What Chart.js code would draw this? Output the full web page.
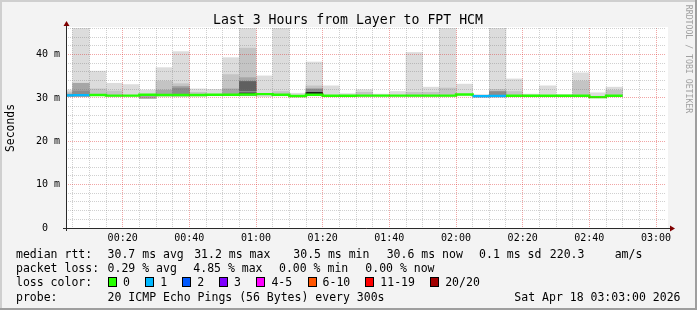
<!DOCTYPE html>
<html><head><meta charset="utf-8">
<script src="https://cdn.jsdelivr.net/npm/chart.js@4.4.1/dist/chart.umd.min.js"></script>
<style>html,body{margin:0;padding:0;background:#f3f3f3}canvas{display:block}</style>
</head><body>
<canvas id="c" width="697" height="310"></canvas>
<script>
// ---------- data ----------
const viewStart = '00:03';
const viewEnd = '03:03';
const stepMinutes = 5;               // probe every 300 s

const intervalStarts = ['00:00','00:05','00:10','00:15','00:20','00:25','00:30','00:35','00:40','00:45',
  '00:50','00:55','01:00','01:05','01:10','01:15','01:20','01:25','01:30','01:35',
  '01:40','01:45','01:50','01:55','02:00','02:05','02:10','02:15','02:20','02:25',
  '02:30','02:35','02:40','02:45'];

// median rtt in ms
const medianRtt = [30.6,30.65,30.7,30.55,30.55,30.75,30.7,30.7,30.7,30.75,
  30.75,30.8,30.9,30.75,30.45,30.75,30.5,30.5,30.55,30.55,
  30.55,30.55,30.55,30.55,30.8,30.4,30.45,30.5,30.5,30.5,
  30.5,30.5,30.2,30.5];

// lost pings (of 20) per interval
const lostPings = [1,1,0,0,0,0,0,0,0,0,
  0,0,0,0,0,0,0,0,0,0,
  0,0,0,0,0,1,1,0,0,0,
  0,0,0,0];

// smoke bands [low, high] in ms, lightest (outer) to darkest (inner)
const smokeOuter = [[30.3,31.85],[30.4,47],[30.5,36.2],[30.3,33.4],[30.3,33.1],[29.9,31.85],[30.4,37.0],[30.4,40.7],[30.4,32.1],[30.5,32.0],
  [30.5,39.3],[30.5,47],[30.3,35.1],[30.5,47],[30.2,31.1],[30.5,38.3],[30.3,32.8],[30.3,31.0],[30.3,31.9],[30.3,30.9],
  [30.3,31.5],[30.3,40.5],[30.3,32.5],[30.3,47],[30.5,33.2],[30.2,30.8],[30.2,47],[30.3,34.4],[30.3,30.9],[30.3,32.8],
  [30.3,30.8],[30.3,35.8],[30.0,31.2],[30.3,32.5]];
const smokeSecond = [[30.4,31.4],null,[30.6,32.1],[30.4,31.6],null,null,[30.5,33.9],[30.5,33.3],[30.5,31.3],null,
  [30.6,35.4],[30.6,41.5],null,[30.6,31.5],null,[30.6,32.8],null,null,[30.4,31.3],null,
  null,[30.4,31.3],[30.4,31.3],[30.4,32.3],null,null,[30.3,32.0],[30.4,31.5],null,null,
  null,[30.4,33.9],null,[30.4,31.8]];
const smokeThird = [null,[30.4,33.4],null,null,null,[29.9,30.5],[30.5,31.8],[30.5,32.7],null,null,
  [30.6,32.1],[30.6,34.7],null,null,null,null,null,null,null,null,
  null,null,null,null,null,null,null,null,null,null,
  null,null,null,null];
const smokeFourth = [[30.4,30.9],[30.4,31.6],null,null,null,null,null,[30.5,32.3],null,null,
  null,[30.6,33.8],null,null,null,[30.6,32.1],null,null,null,null,
  null,null,null,null,null,null,[30.3,31.5],null,null,null,
  null,null,null,null];
const smokeFifth = [null,null,null,null,null,null,null,null,null,null,
  null,[31.7,33.8],null,null,null,null,null,null,null,null,
  null,null,null,null,null,null,null,null,null,null,
  null,null,null,null];
const smokeCore = [null,null,null,null,null,null,null,null,null,null,
  null,[30.8,31.15],null,null,null,[30.8,31.3],null,null,null,null,
  null,null,null,null,null,null,null,null,null,null,
  null,null,null,null];

const xTickLabels = ['00:20','00:40','01:00','01:20','01:40','02:00','02:20','02:40','03:00'];
const yTickValues = [0,10,20,30,40];
const yTickLabels = ['0  ','10 m','20 m','30 m','40 m'];
const yMax = 46.15;

const lossColors = ['#26ff00','#00b8ff','#0059ff','#7e00ff','#ff00ff','#ff5500','#ff0000','#a10000'];
const lossLabels = ['0','1','2','3','4-5','6-10','11-19','20/20'];

const titleText = 'Last 3 Hours from Layer to FPT HCM';
const yAxisTitle = 'Seconds';
const sideText = 'RRDTOOL / TOBI OETIKER';
const statRows = [
  ['median rtt:', ['30.7 ms avg','31.2 ms max','30.5 ms min','30.6 ms now','0.1 ms sd','220.3','am/s']],
  ['packet loss:', ['0.29 % avg','4.85 % max','0.00 % min','0.00 % now']]
];
const probeText = '20 ICMP Echo Pings (56 Bytes) every 300s';
const stampText = 'Sat Apr 18 03:03:00 2026';

// ---------- helpers ----------
const toMin = s => { const [h,m] = s.split(':').map(Number); return h*60+m; };
const fmt = v => String(Math.floor(v/60)).padStart(2,'0')+':'+String(v%60).padStart(2,'0');
const lossIndex = n => n <= 3 ? n : n <= 5 ? 4 : n <= 10 ? 5 : n <= 19 ? 6 : 7;

function bandData(band) {
  const out = [];
  band.forEach((r, i) => { if (r) out.push({x: toMin(intervalStarts[i]) + stepMinutes/2, y: r}); });
  return out;
}
function bandSet(band, color, order) {
  return {type:'bar', data: bandData(band), backgroundColor: color, borderWidth: 0,
    grouped: false, barPercentage: 1, categoryPercentage: 1, order: order, clip: 0};
}
const medianPoints = intervalStarts.map((t,i) => ({x: toMin(t), y: medianRtt[i]}));
medianPoints.push({x: toMin(intervalStarts[intervalStarts.length-1]) + stepMinutes, y: medianRtt[medianRtt.length-1]});

const MONO = '"DejaVu Sans Mono", monospace';
const gridGrey = 'rgba(110,110,110,0.32)';
const gridRed = 'rgba(220,30,30,0.40)';

const decor = {
  id: 'decor',
  beforeDraw(chart) {
    const c = chart.ctx, W = chart.width, H = chart.height, a = chart.chartArea;
    c.save();
    c.fillStyle = '#f3f3f3'; c.fillRect(0,0,W,H);
    c.fillStyle = '#cfcfcf'; c.fillRect(0,0,W,2); c.fillRect(0,0,2,H);
    c.fillStyle = '#9e9e9e'; c.fillRect(0,H-2,W,2); c.fillRect(W-2,0,2,H);
    c.fillStyle = '#ffffff'; c.fillRect(a.left, a.top-1, a.right-a.left+2, a.bottom-a.top+1);
    c.restore();
  },
  afterDraw(chart) {
    const c = chart.ctx, a = chart.chartArea;
    c.save();
    // axes
    c.strokeStyle = '#2a2a2a'; c.lineWidth = 1;
    c.beginPath();
    c.moveTo(a.left+0.5, a.bottom+3); c.lineTo(a.left+0.5, a.top-3);
    c.moveTo(a.left-3, a.bottom+0.5); c.lineTo(a.right+4, a.bottom+0.5);
    c.stroke();
    c.fillStyle = '#7f0000';
    c.beginPath();
    c.moveTo(a.left+0.5, a.top-7); c.lineTo(a.left-2.5, a.top-2); c.lineTo(a.left+3.5, a.top-2); c.closePath(); c.fill();
    c.beginPath();
    c.moveTo(a.right+9, a.bottom+0.5); c.lineTo(a.right+4, a.bottom-2.5); c.lineTo(a.right+4, a.bottom+3.5); c.closePath(); c.fill();
    // title
    c.fillStyle = '#000';
    c.font = '13.2px ' + MONO; c.textAlign = 'center'; c.textBaseline = 'middle';
    c.fillText(titleText, 348, 20.5);
    // y title
    c.save(); c.translate(11, 128); c.rotate(-Math.PI/2);
    c.font = '11.4px ' + MONO; c.fillText(yAxisTitle, 0, 0); c.restore();
    // side text
    c.save(); c.translate(688, 59); c.rotate(Math.PI/2);
    c.fillStyle = '#a0a0a0'; c.font = '8.2px ' + MONO; c.fillText(sideText, 0, 0); c.restore();
    // legend rows
    c.font = '11.5px ' + MONO; c.textAlign = 'left'; c.fillStyle = '#000';
    const rowY = [255, 269.3, 283, 297.7];
    const row0X = [107.6, 194.2, 293.3, 386.7, 479.1, 549.8, 614.7];
    const row1X = [107.6, 193.3, 279, 365.3];
    c.fillText(statRows[0][0], 16, rowY[0]);
    statRows[0][1].forEach((s,i) => c.fillText(s, row0X[i], rowY[0]));
    c.fillText(statRows[1][0], 16, rowY[1]);
    statRows[1][1].forEach((s,i) => c.fillText(s, row1X[i], rowY[1]));
    c.fillText('loss color:', 16, rowY[2]);
    const boxX = [108, 145.3, 182.2, 219.1, 256.4, 307.6, 365.3, 430.2];
    lossLabels.forEach((l,i) => {
      const bx = Math.round(boxX[i]);
      c.fillStyle = lossColors[i]; c.fillRect(bx, 278, 8, 8);
      c.strokeStyle = '#000'; c.lineWidth = 1; c.strokeRect(bx+0.5, 277.5, 8, 9);
      c.fillStyle = '#000'; c.fillText(l, boxX[i]+15, rowY[2]);
    });
    c.fillText('probe:', 16, rowY[3]);
    c.fillText(probeText, 107.6, rowY[3]);
    c.textAlign = 'right'; c.fillText(stampText, 680.5, rowY[3]);
    c.restore();
  }
};

const datasets = [
  {type:'line', data: medianPoints, stepped: true, borderWidth: 2.4, pointRadius: 0, order: 0, clip: 0,
   borderColor: lossColors[0],
   segment: {borderColor: ctx => lossColors[lossIndex(lostPings[Math.min(ctx.p0DataIndex, lostPings.length-1)])]}},
  bandSet(smokeCore, '#1e1e1e', 1),
  bandSet(smokeFifth, '#606060', 2),
  bandSet(smokeFourth, '#8c8c8c', 3),
  bandSet(smokeThird, '#a6a6a6', 4),
  bandSet(smokeSecond, '#c4c4c4', 5),
  bandSet(smokeOuter, '#dcdcdc', 6)
];

new Chart(document.getElementById('c'), {
  data: {datasets},
  plugins: [decor],
  options: {
    responsive: false, animation: false, devicePixelRatio: 1,
    layout: {padding: {top: 28, left: 0, right: 31, bottom: 0}},
    plugins: {legend: {display: false}, tooltip: {enabled: false}, title: {display: false}},
    scales: {
      x: {
        type: 'linear', offset: false, min: toMin(viewStart), max: toMin(viewEnd),
        afterBuildTicks: s => { const t = []; for (let v = stepMinutes; v <= s.max; v += stepMinutes) t.push({value: v}); s.ticks = t; },
        afterFit: s => { s.height = 82; },
        ticks: {autoSkip: false, maxRotation: 0, padding: 4, color: '#000',
          font: {family: MONO, size: 10},
          callback: v => xTickLabels.includes(fmt(v)) ? fmt(v) : ''},
        grid: {offset: false, drawTicks: false, z: 1, lineWidth: 1,
          color: ctx => ctx.tick && xTickLabels.includes(fmt(ctx.tick.value)) ? gridRed : gridGrey},
        border: {display: false, dash: [1,1]}
      },
      y: {
        type: 'linear', min: 0, max: yMax,
        afterBuildTicks: s => { const t = []; for (let v = 0; v <= s.max; v += 2) t.push({value: v}); s.ticks = t; },
        afterFit: s => { s.width = 66; },
        ticks: {autoSkip: false, padding: 6, color: '#000', font: {family: MONO, size: 10},
          callback: v => { const i = yTickValues.indexOf(v); return i >= 0 ? yTickLabels[i] : ''; }},
        grid: {drawTicks: false, z: 1, lineWidth: 1,
          color: ctx => ctx.tick && yTickValues.includes(ctx.tick.value) ? gridRed : gridGrey},
        border: {display: false, dash: [1,1]}
      }
    }
  }
});
</script>
</body></html>
